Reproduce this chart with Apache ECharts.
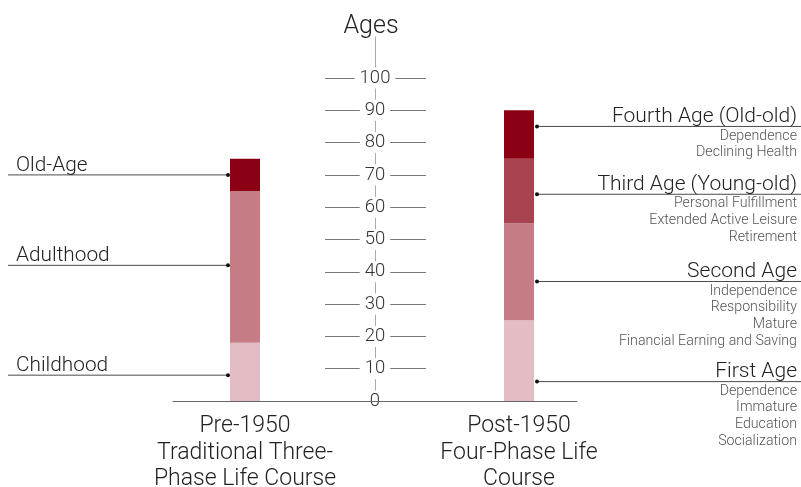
<!DOCTYPE html>
<html>
<head>
<meta charset="utf-8">
<script src="https://cdn.jsdelivr.net/npm/echarts@6/dist/echarts.min.js"></script>
<style>
  html, body { margin: 0; padding: 0; background: #fff; }
  #chart { width: 801px; height: 487px; }
</style>
</head>
<body>
<div id="chart"></div>
<script>
// Life-course categories (x axis)
const categories = [
  'Pre-1950\nTraditional Three-\nPhase Life Course',
  'Post-1950\nFour-Phase Life\nCourse'
];

// Pre-1950: phase names, phase lengths in years (stacked from age 0)
const prePhases = ['Childhood', 'Adulthood', 'Old-Age'];
const preYears = [18, 47, 10];
// age at which each pre-1950 leader line meets the bar
const preLeaderAt = [8, 42, 70];

// Post-1950: phase names, lengths in years, leader ages and descriptors
const postPhases = ['First Age', 'Second Age', 'Third Age (Young-old)', 'Fourth Age (Old-old)'];
const postYears = [25, 30, 20, 15];
const postLeaderAt = [6, 37, 64, 85];
const postNotes = [
  ['Dependence', 'Immature', 'Education', 'Socialization'],
  ['Independence', 'Responsibility', 'Mature', 'Financial Earning and Saving'],
  ['Personal Fulfillment', 'Extended Active Leisure', 'Retirement'],
  ['Dependence', 'Declining Health']
];

// Age axis tick values
const ageTicks = [0, 10, 20, 30, 40, 50, 60, 70, 80, 90, 100];

const preColors = ['#e3bdc3', '#c57c85', '#8c0013'];
const postColors = ['#e3bdc3', '#c57c85', '#a9434f', '#8c0013'];

const FONT = 'Roboto, "Open Sans", sans-serif';
const BAR_W = 30;

// one stacked bar series per phase slot
const barSeries = [];
for (let k = 0; k < 4; k++) {
  const d = [];
  d.push(k < preYears.length
    ? { value: preYears[k], itemStyle: { color: preColors[k] } }
    : '-');
  d.push({ value: postYears[k], itemStyle: { color: postColors[k] } });
  barSeries.push({
    type: 'bar',
    stack: 'life',
    xAxisIndex: 0,
    yAxisIndex: 0,
    barWidth: BAR_W,
    data: d,
    silent: true
  });
}

// leader data: [category index, age, phase index]
const leaderData = [];
preLeaderAt.forEach((a, i) => leaderData.push([0, a, i]));
postLeaderAt.forEach((a, i) => leaderData.push([1, a, i]));

function renderLeader(params, api) {
  const cat = api.value(0);
  const age = api.value(1);
  const k = api.value(2);
  const pt = api.coord([cat, age]);
  const y = pt[1];
  const lineStyle = { stroke: '#4a4a4a', lineWidth: 1 };
  const children = [];
  if (cat === 0) {
    const xe = pt[0] - BAR_W / 2 - 2;
    children.push({ type: 'line', shape: { x1: 8, y1: y, x2: xe, y2: y }, style: lineStyle });
    children.push({ type: 'circle', shape: { cx: xe, cy: y, r: 2 }, style: { fill: '#111' } });
    children.push({
      type: 'text',
      style: {
        text: prePhases[k], x: 16, y: y + 1,
        textAlign: 'left', textVerticalAlign: 'bottom',
        font: '300 20.8px ' + FONT, fill: '#222'
      }
    });
  } else {
    const xs = pt[0] + BAR_W / 2 + 3;
    const xr = api.getWidth() - 4;
    children.push({ type: 'line', shape: { x1: xs, y1: y, x2: api.getWidth(), y2: y }, style: lineStyle });
    children.push({ type: 'circle', shape: { cx: xs, cy: y, r: 2 }, style: { fill: '#111' } });
    children.push({
      type: 'text',
      style: {
        text: postPhases[k], x: xr, y: y + 1,
        textAlign: 'right', textVerticalAlign: 'bottom',
        font: '300 21px ' + FONT, fill: '#222'
      }
    });
    postNotes[k].forEach((n, j) => {
      children.push({
        type: 'text',
        style: {
          text: n, x: xr, y: y + 9.5 + j * 16.7,
          textAlign: 'right', textVerticalAlign: 'middle',
          font: '300 14.2px ' + FONT, fill: '#555'
        }
      });
    });
  }
  return { type: 'group', children: children };
}

const chart = echarts.init(document.getElementById('chart'), null, { renderer: 'canvas' });
chart.setOption({
  animation: false,
  backgroundColor: '#fff',
  grid: [
    // bars
    { left: 108, right: 145, top: 78, bottom: 86, outerBoundsMode: 'none', containLabel: false },
    // central age axis
    { left: 325, right: 375, top: 37, bottom: 86, outerBoundsMode: 'none', containLabel: false },
    // baseline
    { left: 173, right: 224, top: 78, bottom: 86, outerBoundsMode: 'none', containLabel: false }
  ],
  xAxis: [
    {
      gridIndex: 0, type: 'category', data: categories,
      axisLine: { show: false }, axisTick: { show: false },
      axisLabel: { color: '#222', fontFamily: FONT, fontWeight: 300, fontSize: 23, lineHeight: 26.5, margin: 12 }
    },
    { gridIndex: 1, type: 'value', min: 0, max: 1, show: false },
    {
      gridIndex: 2, type: 'value', min: 0, max: 1, z: 10,
      axisLine: { show: true, lineStyle: { color: '#666', width: 1 } },
      axisTick: { show: false }, axisLabel: { show: false }, splitLine: { show: false }
    }
  ],
  yAxis: [
    { gridIndex: 0, type: 'value', min: 0, max: 100, show: false },
    {
      gridIndex: 1, type: 'value', min: 0, max: 112.7,
      position: 'left', offset: -50,
      name: 'Ages', nameLocation: 'end', nameGap: 10,
      nameTextStyle: { color: '#222', fontFamily: FONT, fontWeight: 300, fontSize: 25, verticalAlign: 'middle', align: 'center', padding: [0, 8, 0, 0] },
      axisLine: { show: true, lineStyle: { color: '#aaa', width: 1 } },
      axisTick: { show: false, customValues: ageTicks },
      axisLabel: {
        customValues: ageTicks,
        margin: 0, align: 'center', verticalAlign: 'middle',
        color: '#333', fontFamily: FONT, fontWeight: 300, fontSize: 18.5,
        backgroundColor: '#fff', padding: [1, 5]
      },
      splitLine: { show: true, lineStyle: { color: '#777', width: 1 } }
    },
    { gridIndex: 2, type: 'value', min: 0, max: 1, show: false }
  ],
  series: barSeries.concat([{
    type: 'custom',
    xAxisIndex: 0,
    yAxisIndex: 0,
    z: 5,
    silent: true,
    renderItem: renderLeader,
    encode: { x: 0, y: 1 },
    data: leaderData
  }])
});
</script>
</body>
</html>
